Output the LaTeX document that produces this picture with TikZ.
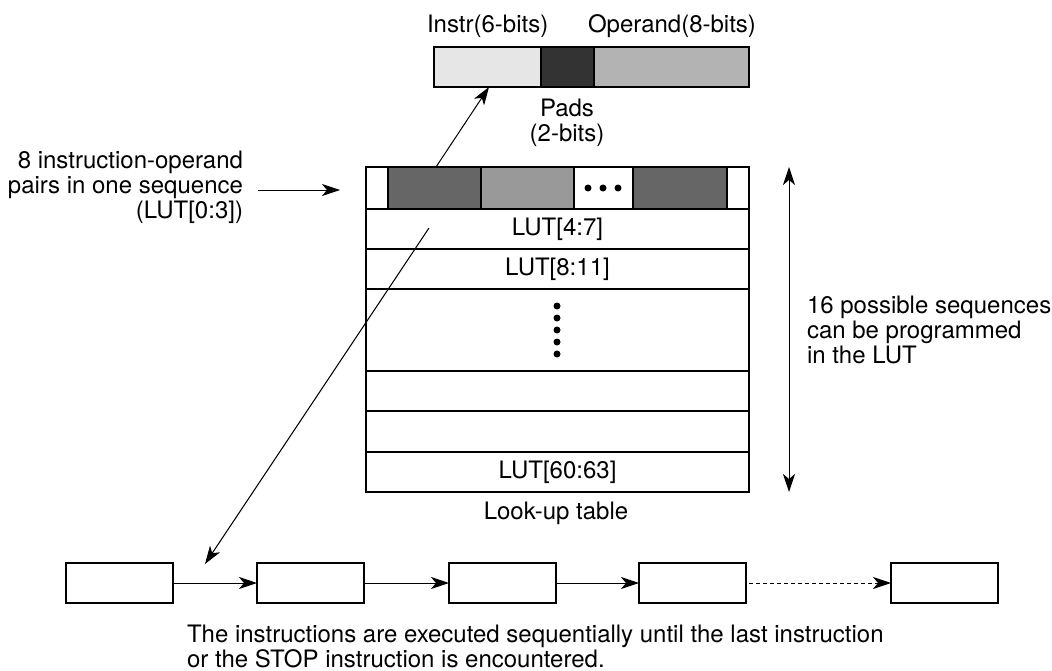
\documentclass[tikz,border=0pt]{standalone}
\usepackage{fontspec}
\setmainfont{TeX Gyre Heros}
\usetikzlibrary{arrows.meta}
\definecolor{lg}{HTML}{E6E6E6}
\definecolor{dk}{HTML}{333333}
\definecolor{md}{HTML}{B3B3B3}
\definecolor{dg}{HTML}{666666}
\definecolor{mg}{HTML}{999999}
\begin{document}
\begin{tikzpicture}[x=1bp,y=-1bp,
  every node/.style={font=\fontsize{24bp}{25bp}\selectfont, inner sep=0pt, outer sep=0pt},
  cell/.style={draw=black, line width=1.1bp, rectangle, anchor=north west},
  arr/.style={-{Stealth[length=18bp,width=12bp,inset=5bp]}, line width=1bp},
  darr/.style={{Stealth[length=18bp,width=12bp,inset=5bp]}-{Stealth[length=18bp,width=12bp,inset=5bp]}, line width=1bp},
  dotn/.style={circle, fill=black, minimum size=7bp}]
\useasboundingbox (0,0) rectangle (1052,671);

% top bar
\node[cell, fill=lg, minimum width=107bp, minimum height=40bp] (instr) at (434,47) {};
\node[cell, fill=dk, minimum width=53bp, minimum height=40bp] (pads) at (541,47) {};
\node[cell, fill=md, minimum width=155bp, minimum height=40bp] (oper) at (594,47) {};
\node[anchor=base west] (linstr) at (427,33) {Instr(6-bits)};
\node[anchor=base west] (loper) at (588,33) {Operand(8-bits)};
\node[anchor=north, align=center] (lpads) at (567,99) {Pads\\(2-bits)};

% look-up table top row
\node[cell, fill=white, minimum width=22bp, minimum height=42bp] (c0) at (366,167) {};
\node[cell, fill=dg, minimum width=93bp, minimum height=42bp] (c1) at (388,167) {};
\node[cell, fill=mg, minimum width=93bp, minimum height=42bp] (c2) at (481,167) {};
\node[cell, fill=white, minimum width=59bp, minimum height=42bp] (c3) at (574,167) {};
\node[cell, fill=dg, minimum width=94bp, minimum height=42bp] (c4) at (633,167) {};
\node[cell, fill=white, minimum width=22bp, minimum height=42bp] (c5) at (727,167) {};
\node[dotn] (hd1) at (588,188) {};
\node[dotn] (hd2) at (603,188) {};
\node[dotn] (hd3) at (618,188) {};

% remaining rows
\node[cell, minimum width=383bp, minimum height=40bp] (r1) at (366,209) {};
\node (t1) at (r1.center) {LUT[4:7]};
\node[cell, minimum width=383bp, minimum height=40bp] (r2) at (366,249) {};
\node (t2) at (r2.center) {LUT[8:11]};
\node[cell, minimum width=383bp, minimum height=82bp] (r3) at (366,289) {};
\foreach \i in {0,...,4} {\node[dotn] (vd\i) at (557,306+12*\i) {};}
\node[cell, minimum width=383bp, minimum height=40bp] (r4) at (366,371) {};
\node[cell, minimum width=383bp, minimum height=41bp] (r5) at (366,411) {};
\node[cell, minimum width=383bp, minimum height=40bp] (r6) at (366,452) {};
\node (t6) at (r6.center) {LUT[60:63]};
\node[anchor=base] (lut) at (556,519) {Look-up table};

% left label
\node[anchor=east, align=right] (left) at (243,187) {8 instruction-operand\\pairs in one sequence\\(LUT[0:3])};
\coordinate (la) at (258,190);
\coordinate (lb) at (340,190);
\draw[arr] (la) -- (lb);

% right label and double arrow
\node[anchor=west, align=left] (right) at (807,330) {16 possible sequences\\can be programmed\\in the LUT};
\coordinate (v1) at (789,167);
\coordinate (v2) at (789,492);
\draw[darr] (v1) -- (v2);

% bottom boxes
\foreach \n/\x in {b1/66,b2/257,b3/449,b4/639,b5/891} {
  \node[cell, fill=white, minimum width=107bp, minimum height=40bp] (\n) at (\x,563) {};
}
\draw[arr] (b1.east) -- (b2.west);
\draw[arr] (b2.east) -- (b3.west);
\draw[arr] (b3.east) -- (b4.west);
\draw[arr, dash pattern=on 4bp off 3bp] ([xshift=3bp]b4.east) -- (b5.west);

% diagonal arrows
\coordinate (d1s) at (436,167);
\coordinate (d1e) at (489,87);
\draw[arr] (d1s) -- (d1e);
\coordinate (d2s) at (429,228);
\coordinate (d2e) at (205,564);
\draw[arr] (d2s) -- (d2e);

% bottom text
\node[anchor=north west, align=left] (bottom) at (187,625) {The instructions are executed sequentially until the last instruction\\or the STOP instruction is encountered.};
\end{tikzpicture}
\end{document}
